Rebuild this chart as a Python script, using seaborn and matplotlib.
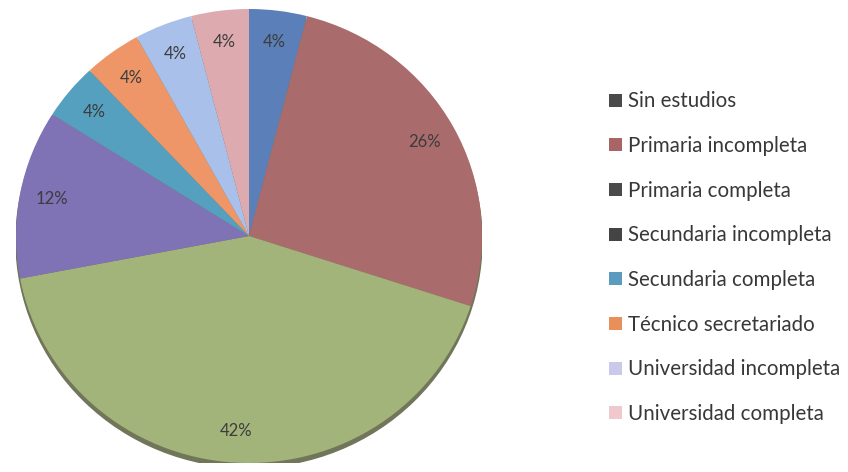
import matplotlib
matplotlib.use("Agg")
import matplotlib.pyplot as plt
from matplotlib.patches import Ellipse, Patch
import seaborn as sns

# Education level shares (%)
categories = [
    "Sin estudios",
    "Primaria incompleta",
    "Primaria completa",
    "Secundaria incompleta",
    "Secundaria completa",
    "Técnico secretariado",
    "Universidad incompleta",
    "Universidad completa",
]
shares = [4, 26, 42, 12, 4, 4, 4, 4]

slice_colors = ["#5B7FB9", "#A96B6B", "#A2B47A", "#7F72B5",
                "#55A0BF", "#EE9668", "#A8C0EA", "#DDAAB0"]
swatch_colors = ["#4A4A4A", "#A96565", "#4A4A4A", "#444444",
                 "#5B9BC0", "#E8905A", "#C9C9EA", "#EFC9CD"]

sns.set_theme(style="white")
plt.rcParams["font.family"] = ["Lato", "DejaVu Sans"]

fig = plt.figure(figsize=(8.48, 4.72), dpi=100)
fig.patch.set_facecolor("white")

# pie area: slightly wider than tall
ax = fig.add_axes([16 / 848, 9 / 472, 466 / 848, 454 / 472])
ax.axis("off")

# soft drop shadow under the pie
ax.add_patch(Ellipse((0.0, -0.02), 2.0, 2.0, color="#71765A", zorder=0))

wedges, texts, autotexts = ax.pie(
    shares,
    colors=sns.color_palette(slice_colors),
    startangle=90,
    counterclock=False,
    radius=1.0,
    autopct=lambda p: f"{p:.0f}%",
    pctdistance=0.86,
    wedgeprops=dict(linewidth=0),
    textprops=dict(color="#3C3C3C", fontsize=12),
)
for w in wedges:
    w.set_zorder(1)
for t in autotexts:
    t.set_zorder(2)
ax.set_aspect("auto")
ax.set_xlim(-1, 1)
ax.set_ylim(-1, 1)

handles = [Patch(facecolor=c, edgecolor="none") for c in swatch_colors]
leg = fig.legend(
    handles, categories,
    loc="upper left",
    bbox_to_anchor=(0.709, 0.824),
    frameon=False,
    fontsize=14.8,
    handlelength=0.6,
    handleheight=0.6,
    handletextpad=0.3,
    labelspacing=1.2,
    borderaxespad=0,
)
for t in leg.get_texts():
    t.set_color("#383838")

fig.savefig("out.png", dpi=100, facecolor="white")
